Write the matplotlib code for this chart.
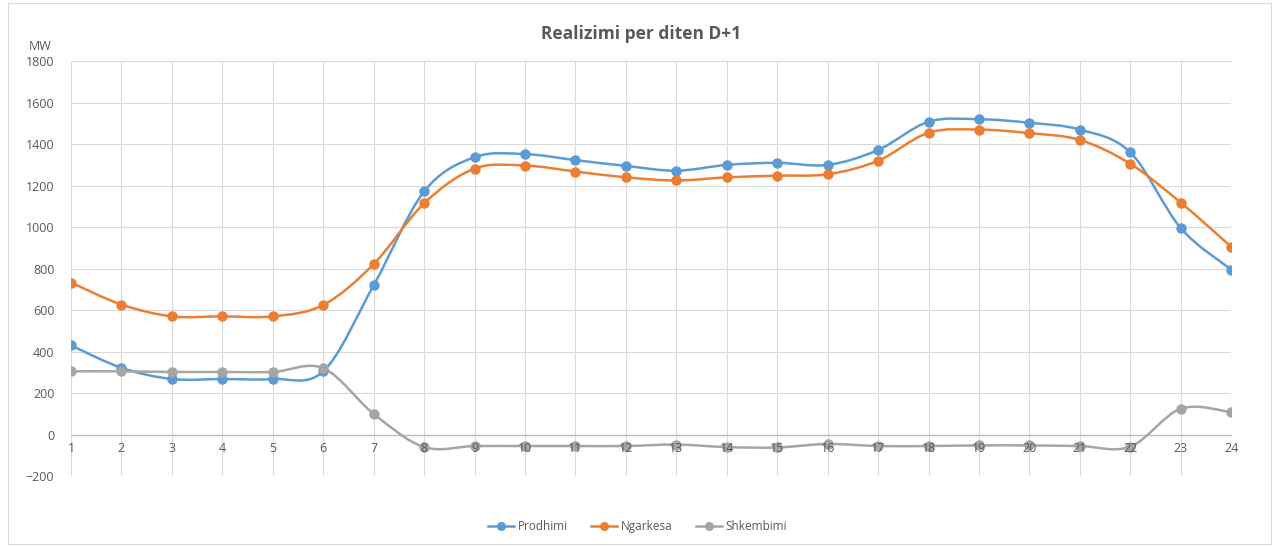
"""Realizimi per diten D+1 - Excel style smoothed line chart."""
import numpy as np
import matplotlib
matplotlib.use("Agg")
import matplotlib.pyplot as plt
from matplotlib.path import Path
from matplotlib.patches import PathPatch, Rectangle
from matplotlib.lines import Line2D
from matplotlib.transforms import offset_copy

plt.rcParams.update({"font.family": ["Open Sans", "DejaVu Sans"], "font.size": 9})

hours = list(range(1, 25))
prodhimi = [430, 322, 268, 268, 268, 305, 720, 1172, 1337, 1352, 1323, 1295,
            1272, 1300, 1310, 1300, 1372, 1508, 1520, 1503, 1470, 1360, 995, 795]
ngarkesa = [733, 627, 570, 570, 570, 625, 822, 1115, 1282, 1297, 1268, 1240,
            1225, 1240, 1248, 1255, 1320, 1455, 1470, 1453, 1420, 1305, 1118, 905]
shkembimi = [305, 305, 302, 302, 302, 320, 100, -60, -55, -55, -55, -55,
             -48, -60, -62, -45, -55, -55, -52, -52, -55, -58, 125, 108]
series = [("Prodhimi", prodhimi, "#5B9BD5"),
          ("Ngarkesa", ngarkesa, "#ED7D31"),
          ("Shkembimi", shkembimi, "#A5A5A5")]
TXT = "#595959"


def smooth_path(x, y):
    # Catmull-Rom style cubic Bezier segments, like Excel's "smoothed line"
    p = np.column_stack([x, y]).astype(float)
    n = len(p)
    verts, codes = [p[0]], [Path.MOVETO]
    for i in range(n - 1):
        p0 = p[i - 1] if i > 0 else p[i]
        p3 = p[i + 2] if i + 2 < n else p[i + 1]
        c1 = p[i] + (p[i + 1] - p0) / 6
        c2 = p[i + 1] - (p3 - p[i]) / 6
        verts += [c1, c2, p[i + 1]]
        codes += [Path.CURVE4] * 3
    return Path(verts, codes)


fig = plt.figure(figsize=(12.75, 5.46), dpi=100)
fig.patches.append(Rectangle((0.006, 0.004), 0.991, 0.99, transform=fig.transFigure,
                             fill=False, edgecolor="#D9D9D9", lw=0.8))
ax = fig.add_axes([0.0557, 0.128, 0.91, 0.76])

for name, vals, col in series:
    ax.add_patch(PathPatch(smooth_path(hours, vals), fill=False, edgecolor=col,
                           lw=1.8, zorder=3, capstyle="round"))
    ax.plot(hours, vals, ls="none", marker="o", ms=6.5, color=col, zorder=4)

ax.set_xlim(1, 24)
ax.set_ylim(-200, 1800)
ax.set_yticks(range(-200, 1801, 200))
ax.set_xticks(hours)
ax.set_xticklabels([])
ax.grid(True, color="#D9D9D9", lw=0.8)
ax.set_axisbelow(True)
for s in ["top", "right", "left"]:
    ax.spines[s].set_visible(False)
ax.spines["bottom"].set_position(("data", 0))
ax.spines["bottom"].set_color("#BFBFBF")
ax.spines["bottom"].set_linewidth(1.0)
ax.tick_params(axis="both", length=0, colors=TXT, labelsize=9)
ax.tick_params(axis="y", pad=12)

# category labels sit on the zero line, above the plotted marks (as in Excel)
lab_tr = offset_copy(ax.transData, fig=fig, y=-5, units="points")
for h in hours:
    ax.text(h, 0, str(h), transform=lab_tr, ha="center", va="top",
            color=TXT, fontsize=9, zorder=6)

ax.text(-0.027, 1.035, "MW", transform=ax.transAxes, ha="center", va="center",
        color=TXT, fontsize=9)
fig.text(0.503, 0.937, "Realizimi per diten D+1", ha="center", va="center",
         fontsize=12.5, fontweight="bold", color=TXT)

handles = [Line2D([], [], color=c, lw=1.8, marker="o", ms=5.5) for _, _, c in series]
fig.legend(handles, [n for n, _, _ in series], loc="center", bbox_to_anchor=(0.5, 0.035),
           ncol=3, frameon=False, fontsize=8.5, labelcolor=TXT, handlelength=2.2,
           columnspacing=2.0, handletextpad=0.3)

fig.savefig("out.png", dpi=100)
